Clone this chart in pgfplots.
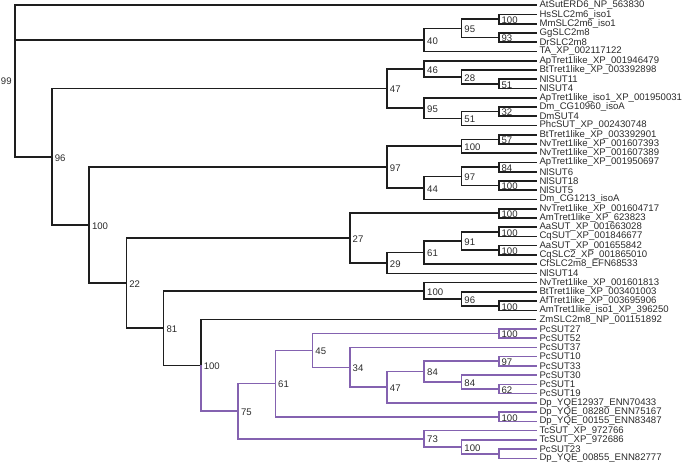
\documentclass[border=0pt]{standalone}
\usepackage{fontspec}
\setmainfont{Liberation Sans}
\usepackage{pgfplots}
\pgfplotsset{compat=1.18}
\definecolor{tblack}{HTML}{1E1E1E}
\definecolor{tpurple}{HTML}{8462B0}
\definecolor{ttext}{HTML}{2A2A2A}
% bracket: [style]{node x}{child1 x}{child1 y}{child2 x}{child2 y}
\newcommand{\br}[6][]{\addplot[tblack,line width=1.7bp,line cap=rect,#1] coordinates {(#3,#4) (#2,#4) (#2,#6) (#5,#6)};}
\begin{document}
\begin{tikzpicture}
\begin{axis}[
  width=683bp, height=483bp, scale only axis,
  xmin=-0.4134, xmax=17.235,
  ymin=0.48, ymax=50.74, y dir=reverse,
  hide axis, clip=false,
  every node/.append style={font=\fontsize{8.3}{9}\selectfont},
]
% ---- black part ----
\br{0}{14}{1}{1}{17.387329}
\addplot[tblack,line width=1.7bp] coordinates {(0,4.75) (11,4.75)};
\br{13}{14}{2}{14}{3}
\br{13}{14}{4}{14}{5}
\br{12}{13}{2.5}{13}{4.5}
\br{11}{12}{3.5}{14}{6}
\br{13}{14}{9}{14}{10}
\br{12}{14}{8}{13}{9.5}
\br{11}{14}{7}{12}{8.75}
\br{13}{14}{12}{14}{13}
\br{12}{13}{12.5}{14}{14}
\br{11}{14}{11}{12}{13.25}
\br{10}{11}{7.875}{11}{12.125}
\br{13}{14}{15}{14}{16}
\br{12}{13}{15.5}{14}{17}
\br{13}{14}{18}{14}{19}
\br{13}{14}{20}{14}{21}
\br{12}{13}{18.5}{13}{20.5}
\br{11}{12}{19.5}{14}{22}
\br{10}{12}{16.25}{11}{20.75}
\br{13}{14}{23}{14}{24}
\br{13}{14}{25}{14}{26}
\br{13}{14}{27}{14}{28}
\br{12}{13}{25.5}{13}{27.5}
\br{11}{12}{26.5}{14}{29}
\br{10}{11}{27.75}{14}{30}
\br{9}{13}{23.5}{10}{28.875}
\br{13}{14}{33}{14}{34}
\br{12}{14}{32}{13}{33.5}
\br{11}{14}{31}{12}{32.75}
\br{4}{11}{31.875}{5}{39.947266}
\br{3}{9}{26.1875}{4}{35.911133}
\br{2}{10}{18.5}{3}{31.049316}
\br{1}{10}{10}{2}{24.774658}
\addplot[tblack,line width=1.7bp] coordinates {(14,35) (5,35) (5,39.947266)};
% ---- purple part ----
\addplot[tpurple,line width=1.7bp] coordinates {(5,39.947266) (5,44.894531) (6,44.894531)};
\br[tpurple]{13}{14}{36}{14}{37}
\br[tpurple]{13}{14}{39}{14}{40}
\br[tpurple]{13}{14}{42}{14}{43}
\br[tpurple]{12}{14}{41}{13}{42.5}
\br[tpurple]{11}{13}{39.5}{12}{41.75}
\br[tpurple]{10}{11}{40.625}{14}{44}
\br[tpurple]{9}{14}{38}{10}{42.3125}
\br[tpurple]{8}{13}{36.5}{9}{40.15625}
\br[tpurple]{13}{14}{45}{14}{46}
\br[tpurple]{7}{8}{38.328125}{13}{45.5}
\br[tpurple]{13}{14}{49}{14}{50}
\br[tpurple]{12}{14}{48}{13}{49.5}
\br[tpurple]{11}{14}{47}{12}{48.75}
\br[tpurple]{6}{7}{41.914063}{11}{47.875}
% ---- support values ----
\addplot[only marks, mark=none, nodes near coords, point meta=explicit symbolic,
  nodes near coords style={anchor=west, inner sep=1bp, xshift=1.8bp, yshift=-1bp, text=ttext}]
table[meta=lab] {
x y lab
13 2.5 100
13 4.5 93
12 3.5 95
11 4.75 40
13 9.5 51
12 8.75 28
11 7.875 46
13 12.5 32
12 13.25 51
11 12.125 95
10 10 47
13 15.5 57
12 16.25 100
13 18.5 84
13 20.5 100
12 19.5 97
11 20.75 44
10 18.5 97
1 17.387329 96
13 23.5 100
13 25.5 100
13 27.5 100
12 26.5 91
11 27.75 61
10 28.875 29
9 26.1875 27
2 24.774658 100
3 31.049316 22
13 33.5 100
12 32.75 96
11 31.875 100
4 35.911133 81
5 39.947266 100
13 36.5 100
13 39.5 97
13 42.5 62
12 41.75 84
11 40.625 84
10 42.3125 47
9 40.15625 34
8 38.328125 45
13 45.5 100
7 41.914063 61
12 48.75 100
11 47.875 73
6 44.894531 75
};
\addplot[only marks, mark=none, nodes near coords, point meta=explicit symbolic,
  nodes near coords style={anchor=east, inner sep=1bp, xshift=-2bp, text=ttext}]
table[meta=lab] {
x y lab
0 9.19 99
};
% ---- leaf names ----
\addplot[only marks, mark=none, nodes near coords, point meta=explicit symbolic,
  nodes near coords style={anchor=west, inner sep=1bp, xshift=2.5bp, text=ttext}]
table[meta=lab] {
x y lab
14 1 AtSutERD6\_NP\_563830
14 2 HsSLC2m6\_iso1
14 3 MmSLC2m6\_iso1
14 4 GgSLC2m8
14 5 DrSLC2m8
14 6 TA\_XP\_002117122
14 7 ApTret1like\_XP\_001946479
14 8 BtTret1like\_XP\_003392898
14 9 NlSUT11
14 10 NlSUT4
14 11 ApTret1like\_iso1\_XP\_001950031
14 12 Dm\_CG10960\_isoA
14 13 DmSUT4
14 14 PhcSUT\_XP\_002430748
14 15 BtTret1like\_XP\_003392901
14 16 NvTret1like\_XP\_001607393
14 17 NvTret1like\_XP\_001607389
14 18 ApTret1like\_XP\_001950697
14 19 NlSUT6
14 20 NlSUT18
14 21 NlSUT5
14 22 Dm\_CG1213\_isoA
14 23 NvTret1like\_XP\_001604717
14 24 AmTret1like\_XP\_623823
14 25 AaSUT\_XP\_001663028
14 26 CqSUT\_XP\_001846677
14 27 AaSUT\_XP\_001655842
14 28 CqSLC2\_XP\_001865010
14 29 CfSLC2m8\_EFN68533
14 30 NlSUT14
14 31 NvTret1like\_XP\_001601813
14 32 BtTret1like\_XP\_003401003
14 33 AfTret1like\_XP\_003695906
14 34 AmTret1like\_iso1\_XP\_396250
14 35 ZmSLC2m8\_NP\_001151892
14 36 PcSUT27
14 37 PcSUT52
14 38 PcSUT37
14 39 PcSUT10
14 40 PcSUT33
14 41 PcSUT30
14 42 PcSUT1
14 43 PcSUT19
14 44 Dp\_YQE12937\_ENN70433
14 45 Dp\_YQE\_08280\_ENN75167
14 46 Dp\_YQE\_00155\_ENN83487
14 47 TcSUT\_XP\_972766
14 48 TcSUT\_XP\_972686
14 49 PcSUT23
14 50 Dp\_YQE\_00855\_ENN82777
};
\end{axis}
\end{tikzpicture}
\end{document}
